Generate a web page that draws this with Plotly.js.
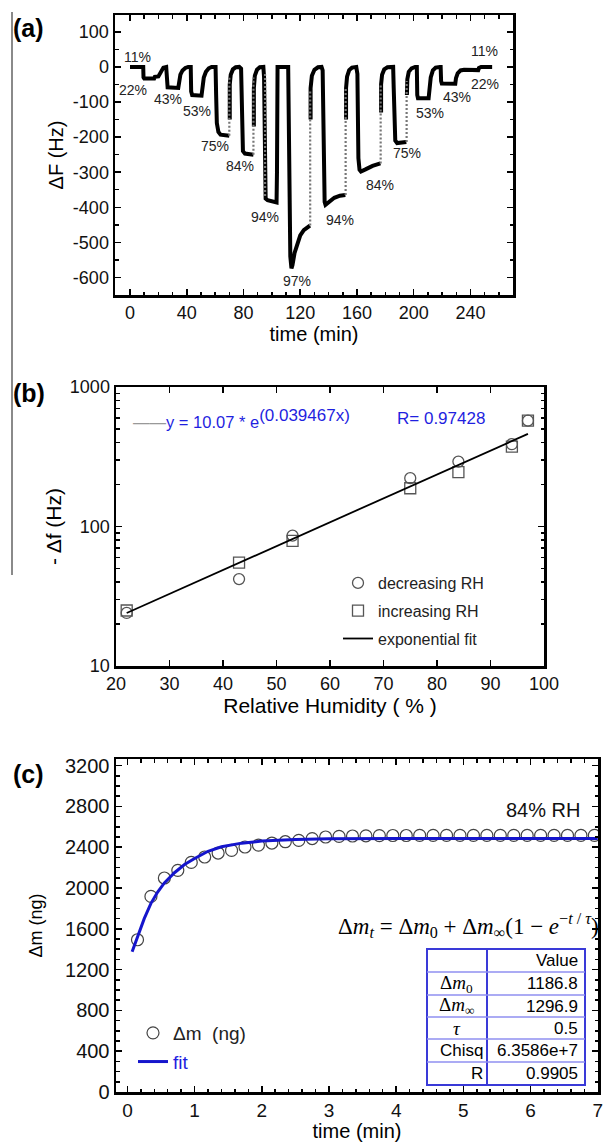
<!DOCTYPE html>
<html><head><meta charset="utf-8">
<script src="https://cdn.plot.ly/plotly-3.0.1.min.js"></script>
<style>html,body{margin:0;padding:0;background:#fff}#chart{width:605px;height:1142px}</style>
</head><body><div id="chart"></div>
<script>
// ---------- Panel (a): frequency shift vs time ----------
const timeA = [0,9.3,9.5,10,17,17.5,20,21,22,23.5,25.5,
  25.8,26.5,34,34.6,35.5,37,39,41,42.8,
  43.1,43.8,50.4,51,52,53.5,55.5,57.5,60.3,
  60.7,61.2,62.3,63.8,70,null,
  70.3,70,70.3,71,72.5,74.5,77,78.3,78.6,78.9,79.6,81,87,null,
  87.3,87,87.3,88,89.5,91.5,94,94.5,94.8,95.1,95.6,97,103.3,103.6,103.8,104,111.5,111.8,112.3,113,113.8,114.5,116,118,120,122.5,126.8,null,
  127.3,127,127.3,128.2,130,132.5,135,135.8,136.1,136.5,137.2,137.8,140,144,148,151.8,null,
  152.3,152,152.3,153,154.5,156.5,159.5,160.3,160.6,161,161.8,162.8,166,171,176.5,null,
  177,176.7,177,177.7,179.2,181.5,185.5,185.9,186.3,187,188.3,194.8,null,
  195.2,195.5,196.5,198.5,201,202.2,202.5,203,210.5,211,212,213.5,215.5,218.5,219,219.3,219.8,229.3,229.8,231,233,235.5,245.5,246,247.5,255.3];
const dFA = [0,0,-30,-33,-33,-28,-27,-20,-8,-2,0,
  -50,-58,-60,-40,-22,-10,-3,0,0,
  -70,-80,-82,-55,-30,-14,-4,0,0,
  -80,-160,-185,-193,-196,null,
  -150,-100,-50,-22,-7,-1,0,-5,-80,-200,-240,-247,-250,null,
  -170,-120,-60,-25,-8,-1,0,-30,-150,-330,-375,-380,-386,-300,-100,0,0,-100,-400,-540,-574,-565,-530,-500,-480,-465,-452,null,
  -150,-100,-60,-25,-8,-1,0,-10,-150,-330,-385,-393,-385,-373,-367,-365,null,
  -150,-110,-60,-28,-9,-2,0,-20,-150,-260,-293,-298,-292,-282,-275,null,
  -130,-90,-50,-22,-7,-1,0,-60,-180,-210,-217,-214,null,
  -80,-35,-14,-4,0,0,-80,-89,-89,-60,-30,-10,-2,0,0,-40,-47,-48,-32,-18,-10,-8,-9,-3,0,0];
// fast transitions drawn as sparse open points (vertical dotted runs)
const timeFast = [70,70,null,87,87,null,95.2,95.2,null,127,127,null,152,152,null,176.7,176.7,null,195,195];
const dFFast   = [-196,-30,null,-250,-30,null,-20,-370,null,-452,-70,null,-365,-60,null,-275,-50,null,-214,-40];
const rhLabels = ['11%','22%','43%','53%','75%','84%','94%','97%','94%','84%','75%','53%','43%','22%','11%'];
const rhLabelT = [5.6,2,27,47,60,77.6,95.3,117.6,148,176.5,195.3,211.8,230.6,250.6,250];
const rhLabelF = [28,-66,-92,-125,-224,-281,-427,-609,-436,-336,-244,-132,-85,-48,44];
const aXTicks = [0,40,80,120,160,200,240];
const aYTicks = [100,0,-100,-200,-300,-400,-500,-600];
const aYText  = ['100','0','-100','-200','-300','-400','-500','-600'];

// ---------- Panel (b): -Δf vs RH ----------
const rhDec = [22,43,53,75,84,94,97];
const dfDec = [24,42,86,222,292,389,574];
const rhInc = [22,43,53,75,84,94,97];
const dfInc = [25,55,79,188,245,374,574];
const fitRH = [22,97];
const fitDf = [24.0,461];

// ---------- Panel (c): mass change vs time at 84% RH ----------
const timeC = [0.15,0.35,0.55,0.75,0.95,1.15,1.35,1.55,1.75,1.95,2.15,2.35,2.55,2.75,2.95,3.15,3.35,3.55,3.75,3.95,4.15,4.35,4.55,4.75,4.95,5.15,5.35,5.55,5.75,5.95,6.15,6.35,6.55,6.75,6.95];
const massC = [1493,1918,2098,2173,2251,2304,2343,2369,2402,2421,2441,2454,2467,2485,2500,2506,2510,2512,2514,2515,2515,2516,2516,2516,2516,2516,2516,2516,2516,2516,2516,2516,2516,2516,2516];
const fitT = [0.07,0.15,0.25,0.35,0.45,0.55,0.7,0.85,1.0,1.2,1.4,1.7,2.0,2.5,3,4,5,6,7];
const fitM = [1375,1520,1700,1850,1960,2050,2150,2230,2290,2360,2405,2440,2460,2475,2482,2485,2485,2485,2485];
const tableNames  = ['', 'Δ<i>m</i><sub>0</sub>', 'Δ<i>m</i><sub>∞</sub>', '<i>τ</i>', 'Chisq', 'R'];
const tableValues = ['Value', '1186.8', '1296.9', '0.5', '6.3586e+7', '0.9905'];

// ---------- layout helpers ----------
const W = 605, H = 1142;
const fx = p => p / W;
const fy = p => 1 - p / H;
const FONT = 'Liberation Sans, Arial, sans-serif';
const SERIF = 'Liberation Serif, Times New Roman, serif';
const BLUE = '#1f1fe0';

function axisBase(extra) {
  return Object.assign({
    showline: true, linecolor: '#000', linewidth: 2.5, mirror: 'allticks',
    ticks: 'inside', ticklen: 6, tickwidth: 1.5, tickcolor: '#000',
    showgrid: false, zeroline: false, fixedrange: true,
    tickfont: {family: FONT, size: 18, color: '#111'}
  }, extra);
}

const traces = [
  {x: timeA, y: dFA, xaxis: 'x', yaxis: 'y', mode: 'lines', connectgaps: false,
   line: {color: '#000', width: 4}, showlegend: false, hoverinfo: 'skip'},
  {x: timeFast, y: dFFast, xaxis: 'x', yaxis: 'y', mode: 'lines', connectgaps: false,
   line: {color: '#777', width: 2.2, dash: '2px,2px'}, showlegend: false, hoverinfo: 'skip'},
  {x: rhDec, y: dfDec, xaxis: 'x2', yaxis: 'y2', mode: 'markers', name: 'decreasing RH',
   marker: {symbol: 'circle-open', size: 11, color: '#555', line: {width: 1.3, color: '#555'}},
   legend: 'legend', legendgroup: 'g1'},
  {x: rhInc, y: dfInc, xaxis: 'x2', yaxis: 'y2', mode: 'markers', name: 'increasing RH',
   marker: {symbol: 'square-open', size: 11, color: '#555', line: {width: 1.3, color: '#555'}},
   legend: 'legend', legendgroup: 'g2'},
  {x: fitRH, y: fitDf, xaxis: 'x2', yaxis: 'y2', mode: 'lines', name: 'exponential fit',
   line: {color: '#000', width: 1.8}, legend: 'legend', legendgroup: 'g3'},
  {x: timeC, y: massC, xaxis: 'x3', yaxis: 'y3', mode: 'markers', name: 'Δm  (ng)',
   marker: {symbol: 'circle-open', size: 12, color: '#444', line: {width: 1.2, color: '#444'}},
   legend: 'legend2', legendgroup: 'h1'},
  {x: fitT, y: fitM, xaxis: 'x3', yaxis: 'y3', mode: 'lines', name: '<span style="color:' + BLUE + '">fit</span>',
   line: {color: '#1515cc', width: 3}, legend: 'legend2', legendgroup: 'h2'}
];

const annotations = [];
rhLabels.forEach((t, i) => annotations.push({
  x: rhLabelT[i], y: rhLabelF[i], xref: 'x', yref: 'y', text: t, showarrow: false,
  font: {family: FONT, size: 14, color: '#222'}
}));
// panel tags
[['(a)', 28], ['(b)', 393], ['(c)', 774]].forEach(p => annotations.push({
  x: fx(11), y: fy(p[1]), xref: 'paper', yref: 'paper', xanchor: 'left', yanchor: 'middle',
  text: '<b>' + p[0] + '</b>', showarrow: false, font: {family: FONT, size: 25, color: '#000'}
}));
// equation in (b)
annotations.push({x: fx(131), y: fy(418), xref: 'paper', yref: 'paper', xanchor: 'left', yanchor: 'middle',
  text: '<span style="color:#999">——</span>y = 10.07 * e<sup><span style="font-size:17px">(0.039467x)</span></sup>',
  showarrow: false, font: {family: FONT, size: 16.5, color: BLUE}});
annotations.push({x: fx(395), y: fy(418), xref: 'paper', yref: 'paper', xanchor: 'left', yanchor: 'middle',
  text: 'R= 0.97428', showarrow: false, font: {family: FONT, size: 17, color: BLUE}});
// (c) texts
annotations.push({x: fx(582), y: fy(810), xref: 'paper', yref: 'paper', xanchor: 'right', yanchor: 'middle',
  text: '84% RH', showarrow: false, font: {family: FONT, size: 20, color: '#111'}});
annotations.push({x: fx(601), y: fy(925), xref: 'paper', yref: 'paper', xanchor: 'right', yanchor: 'middle',
  text: 'Δ<i>m</i><sub><i>t</i></sub> = Δ<i>m</i><sub>0</sub> + Δ<i>m</i><sub>∞</sub>(1 − <i>e</i><sup>−<i>t</i> / <i>τ</i></sup>)',
  showarrow: false, font: {family: SERIF, size: 23, color: '#000'}});

// parameter table in (c)
const tL = 427, tR = 585, tDiv = 487;
const rowEdges = [949, 972, 995, 1017, 1039, 1062, 1085];
const shapes = [
  {type: 'line', xref: 'paper', yref: 'paper', x0: fx(12), x1: fx(12), y0: fy(12), y1: fy(575),
   line: {color: '#8a8a8a', width: 2}},
  {type: 'rect', xref: 'paper', yref: 'paper', x0: fx(tL), x1: fx(tR), y0: fy(rowEdges[6]), y1: fy(rowEdges[0]),
   line: {color: '#3a3ad8', width: 2}, fillcolor: 'rgba(255,255,255,1)', layer: 'above'},
  {type: 'line', xref: 'paper', yref: 'paper', x0: fx(tDiv), x1: fx(tDiv), y0: fy(rowEdges[6]), y1: fy(rowEdges[0]),
   line: {color: '#3a3ad8', width: 2}}
];
for (let r = 1; r < 6; r++) {
  shapes.push({type: 'line', xref: 'paper', yref: 'paper', x0: fx(tL), x1: fx(tR), y0: fy(rowEdges[r]), y1: fy(rowEdges[r]),
    line: {color: '#8f8ff0', width: 1.5}});
}
for (let r = 0; r < 6; r++) {
  const yc = fy((rowEdges[r] + rowEdges[r + 1]) / 2);
  if (tableNames[r]) {
    const serifRow = r >= 1 && r <= 3;
    annotations.push({x: serifRow ? fx((tL + tDiv) / 2) : fx(tDiv - 2), y: yc, xref: 'paper', yref: 'paper',
      xanchor: serifRow ? 'center' : 'right', yanchor: 'middle', text: tableNames[r], showarrow: false,
      font: {family: serifRow ? SERIF : FONT, size: serifRow ? 19 : 17, color: '#000'}});
  }
  annotations.push({x: fx(tR - 5), y: yc, xref: 'paper', yref: 'paper', xanchor: 'right', yanchor: 'middle',
    text: tableValues[r], showarrow: false, font: {family: FONT, size: 17, color: '#000'}});
}

const layout = {
  width: W, height: H, margin: {l: 0, r: 0, t: 0, b: 0},
  paper_bgcolor: '#fff', plot_bgcolor: '#fff',
  font: {family: FONT, color: '#000'},
  xaxis: axisBase({domain: [fx(115), fx(513)], range: [-10.6, 270], tickvals: aXTicks, anchor: 'y',
    minor: {dtick: 10, ticks: 'inside', ticklen: 3.5, tickcolor: '#000'},
    title: {text: 'time (min)', font: {family: FONT, size: 20}, standoff: 0}}),
  yaxis: axisBase({domain: [fy(295), fy(15)], range: [-650, 148], tickvals: aYTicks, ticktext: aYText, anchor: 'x',
    minor: {dtick: 50, ticks: 'inside', ticklen: 3.5, tickcolor: '#000'},
    title: {text: 'ΔF (Hz)', font: {family: FONT, size: 20}, standoff: 4}}),
  xaxis2: axisBase({domain: [fx(116), fx(544)], range: [20, 100], dtick: 10, anchor: 'y2',
    title: {text: 'Relative Humidity ( % )', font: {family: FONT, size: 21}, standoff: 4}}),
  yaxis2: axisBase({domain: [fy(666), fy(387)], type: 'log', range: [1, 3], tickvals: [10, 100, 1000],
    ticktext: ['10', '100', '1000'], anchor: 'x2',
    minor: {dtick: 'D1', ticks: 'inside', ticklen: 3.5, tickcolor: '#000'},
    title: {text: '- Δf (Hz)', font: {family: FONT, size: 21}, standoff: 3}}),
  xaxis3: axisBase({domain: [fx(116), fx(598)], range: [-0.17, 7.004], dtick: 1, anchor: 'y3',
    ticklabeloverflow: 'allow',
    tickfont: {family: FONT, size: 19, color: '#111'},
    minor: {dtick: 0.2, ticks: 'inside', ticklen: 3.5, tickcolor: '#000'},
    title: {text: 'time (min)', font: {family: FONT, size: 20}, standoff: 2}}),
  yaxis3: axisBase({domain: [fy(1092), fy(759)], range: [0, 3265], dtick: 400, anchor: 'x3',
    tickfont: {family: FONT, size: 20, color: '#111'},
    minor: {dtick: 100, ticks: 'inside', ticklen: 3.5, tickcolor: '#000'},
    title: {text: 'Δm (ng)', font: {family: FONT, size: 18}, standoff: 18}}),
  legend: {x: fx(338), y: fy(566), xanchor: 'left', yanchor: 'top', bgcolor: 'rgba(0,0,0,0)',
    font: {family: FONT, size: 16, color: '#222'}, traceorder: 'grouped', tracegroupgap: 4},
  legend2: {x: fx(133), y: fy(1014), xanchor: 'left', yanchor: 'top', bgcolor: 'rgba(0,0,0,0)',
    font: {family: FONT, size: 19, color: '#222'}, traceorder: 'grouped', tracegroupgap: 1},
  annotations: annotations,
  shapes: shapes
};

Plotly.newPlot('chart', traces, layout, {staticPlot: true, displayModeBar: false});
</script>
</body></html>
